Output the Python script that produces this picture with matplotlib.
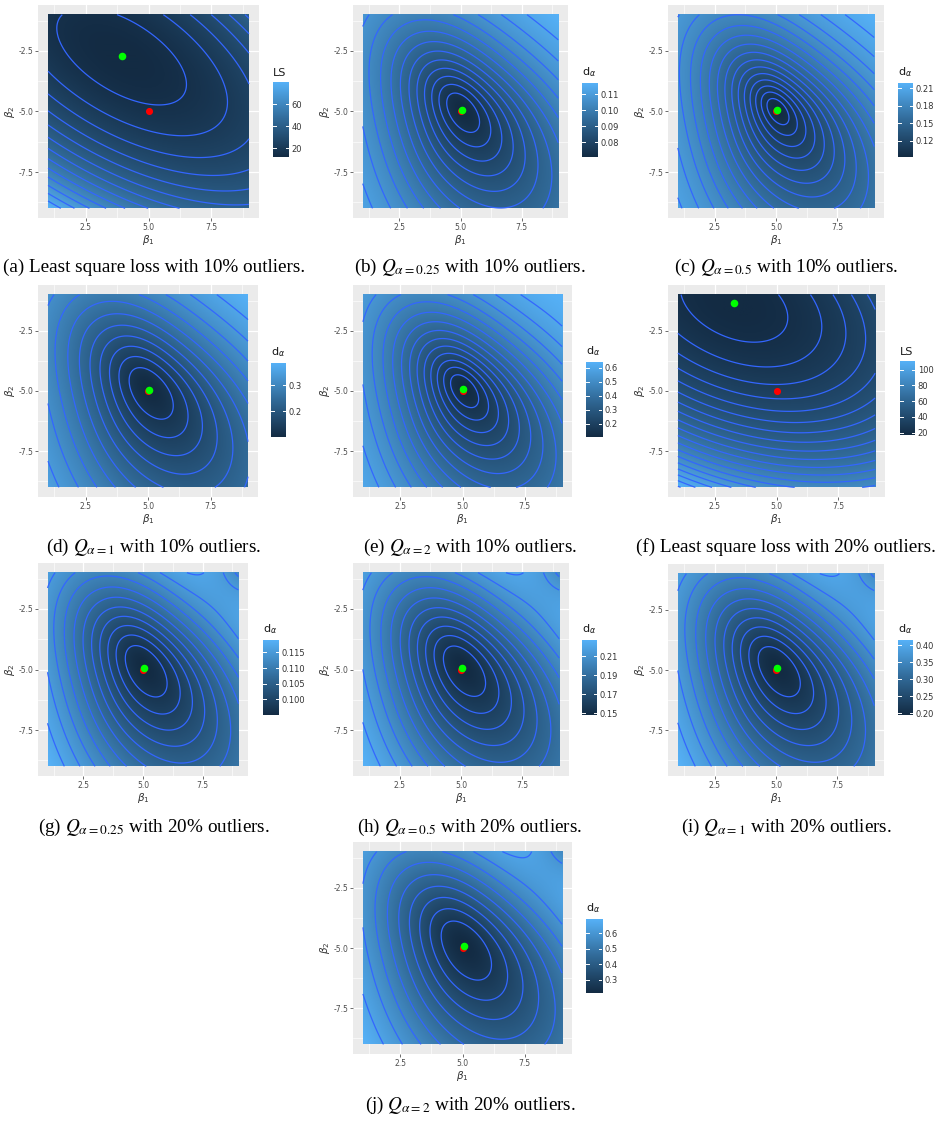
import numpy as np
import matplotlib
matplotlib.use("Agg")
import matplotlib.pyplot as plt
from matplotlib.colors import LinearSegmentedColormap

W, H = 939, 1131

captions = [
    "(a) Least square loss with 10% outliers.",
    r"(b) $Q_{\alpha=0.25}$ with 10% outliers.",
    r"(c) $Q_{\alpha=0.5}$ with 10% outliers.",
    r"(d) $Q_{\alpha=1}$ with 10% outliers.",
    r"(e) $Q_{\alpha=2}$ with 10% outliers.",
    "(f) Least square loss with 20% outliers.",
    r"(g) $Q_{\alpha=0.25}$ with 20% outliers.",
    r"(h) $Q_{\alpha=0.5}$ with 20% outliers.",
    r"(i) $Q_{\alpha=1}$ with 20% outliers.",
    r"(j) $Q_{\alpha=2}$ with 20% outliers.",
]
kinds = ["ls", "dpd", "dpd", "dpd", "dpd", "ls", "dpd", "dpd", "dpd", "dpd"]
legend_titles = ["LS", "d$_{\\alpha}$", "d$_{\\alpha}$", "d$_{\\alpha}$", "d$_{\\alpha}$",
                 "LS", "d$_{\\alpha}$", "d$_{\\alpha}$", "d$_{\\alpha}$", "d$_{\\alpha}$"]

# range of the fill scale
value_lo = [12, 0.0706, 0.092, 0.101, 0.104, 17, 0.095, 0.148, 0.195, 0.214]
value_hi = [80, 0.117, 0.219, 0.386, 0.64, 111, 0.119, 0.227, 0.415, 0.692]
bar_ticks = [
    [20, 40, 60],
    [0.08, 0.09, 0.10, 0.11],
    [0.12, 0.15, 0.18, 0.21],
    [0.2, 0.3],
    [0.2, 0.3, 0.4, 0.5, 0.6],
    [20, 40, 60, 80, 100],
    [0.100, 0.105, 0.110, 0.115],
    [0.15, 0.17, 0.19, 0.21],
    [0.20, 0.25, 0.30, 0.35, 0.40],
    [0.3, 0.4, 0.5, 0.6],
]
bar_labels = [
    ["20", "40", "60"],
    ["0.08", "0.09", "0.10", "0.11"],
    ["0.12", "0.15", "0.18", "0.21"],
    ["0.2", "0.3"],
    ["0.2", "0.3", "0.4", "0.5", "0.6"],
    ["20", "40", "60", "80", "100"],
    ["0.100", "0.105", "0.110", "0.115"],
    ["0.15", "0.17", "0.19", "0.21"],
    ["0.20", "0.25", "0.30", "0.35", "0.40"],
    ["0.3", "0.4", "0.5", "0.6"],
]
# contour levels: fixed step for LS, count for d_alpha
level_step = [5, None, None, None, None, 5, None, None, None, None]
n_levels = [0, 13, 16, 11, 14, 0, 11, 11, 11, 9]

# estimated minimiser (green) and true beta (red)
green_b1 = [3.93, 5.05, 5.05, 5.04, 5.04, 3.28, 5.05, 5.06, 5.05, 5.05]
green_b2 = [-2.72, -4.95, -4.95, -4.95, -4.93, -1.35, -4.93, -4.93, -4.93, -4.93]
red_b1 = [5.0] * 10
red_b2 = [-5.0] * 10

# surface shape around the minimiser
shape_A = [1.00, 1.0, 1.0, 1.0, 1.0, 1.00, 1.0, 1.0, 1.0, 1.0]
shape_B = [1.65, 0.7, 0.7, 0.7, 0.7, 1.80, 0.7, 0.7, 0.7, 0.7]
shape_C = [0.74, 0.4, 0.4, 0.4, 0.4, 0.50, 0.4, 0.4, 0.4, 0.4]
core = [0, 0.35, 0.08, 0.7, 0.2, 0, 1.0, 0.9, 0.9, 1.2]      # rounding of the bottom
saturation = [0, 0.25, 0.25, 0.22, 0.25, 0, 0.22, 0.22, 0.22, 0.22]
skew_up = [0, 0.3, 0.3, 0.3, 0.3, 0, 0.3, 0.3, 0.3, 0.3]      # upper side brighter
skew_left = [0, 0.1, 0.1, 0.1, 0.1, 0, 0.1, 0.1, 0.1, 0.1]
out_b1 = [0, 10.5, 10.5, 10.5, 10.5, 0, 10.2, 10.2, 10.2, 10.2]
out_b2 = [0, 0.5, 0.5, 0.5, 0.5, 0, 0.2, 0.2, 0.2, 0.2]
out_w = [0, 0, 0, 0, 0.08, 0, 0.55, 0.55, 0.55, 0.55]

x_ticks = [2.5, 5.0, 7.5]
x_ticklabels = ["2.5", "5.0", "7.5"]
y_ticks = [-7.5, -5.0, -2.5]
y_ticklabels = ["-7.5", "-5.0", "-2.5"]

# pixel boxes (x0, y0, x1, y1)
panel_px = [(38, 5, 259, 218), (353, 5, 568, 218), (668, 5, 884, 218),
            (38, 285, 258, 497), (353, 285, 572, 497), (668, 285, 885, 497),
            (38, 563, 248, 776), (353, 563, 569, 776), (668, 564, 884, 776),
            (353, 842, 572, 1054)]
bar_px = [(273, 82, 289, 157), (582, 83, 598, 157), (898, 83, 913, 157),
          (271, 363, 286, 437), (586, 362, 602, 437), (900, 361, 915, 435),
          (263, 640, 279, 715), (582, 640, 597, 715), (898, 640, 913, 715),
          (586, 919, 602, 993)]
caption_xy = [(154, 267), (470, 267), (786, 267), (154, 547), (470, 547),
              (786, 547), (154, 827), (470, 827), (786, 827), (470, 1105)]

cmap = LinearSegmentedColormap.from_list("gg", ["#132B43", "#316A98", "#56B1F7"])


def rect(box):
    x0, y0, x1, y1 = box
    return [x0 / W, 1 - y1 / H, (x1 - x0) / W, (y1 - y0) / H]


def surface(i, b1, b2):
    u = b1 - green_b1[i]
    v = b2 - green_b2[i]
    q = shape_A[i] * u * u + shape_B[i] * v * v + 2 * shape_C[i] * u * v
    if kinds[i] == "ls":
        z = 0.5 * q
    else:
        cone = np.sqrt(q + core[i]) - np.sqrt(core[i])
        side = (skew_up[i] * v - skew_left[i] * u) / np.sqrt(u * u + v * v + 1)
        z = 1 - np.exp(-saturation[i] * cone * (1 + side))
        d2 = (b1 - out_b1[i]) ** 2 + (b2 - out_b2[i]) ** 2
        z -= out_w[i] * np.exp(-0.25 * d2)
    z = (z - z.min()) / (z.max() - z.min())
    return value_lo[i] + z * (value_hi[i] - value_lo[i])


fig = plt.figure(figsize=(W / 100, H / 100), dpi=100)

g1 = np.linspace(1, 9, 201)
g2 = np.linspace(-9, -1, 201)
B1, B2 = np.meshgrid(g1, g2)

for i in range(10):
    ax = fig.add_axes(rect(panel_px[i]))
    ax.set_facecolor("#EBEBEB")
    for s in ax.spines.values():
        s.set_visible(False)
    ax.set_xticks(x_ticks)
    ax.set_xticklabels(x_ticklabels)
    ax.set_yticks(y_ticks)
    ax.set_yticklabels(y_ticklabels)
    ax.set_xticks([1.25, 3.75, 6.25, 8.75], minor=True)
    ax.set_yticks([-8.75, -6.25, -3.75, -1.25], minor=True)
    ax.grid(which="major", color="white", lw=0.9)
    ax.grid(which="minor", color="white", lw=0.45)
    ax.set_axisbelow(True)
    ax.tick_params(which="major", length=2, width=0.5, color="#333333",
                   labelsize=5.5, labelcolor="#4D4D4D", pad=1.5)
    ax.tick_params(which="minor", length=0)
    ax.set_xlabel(r"$\beta_1$", fontsize=7.5, color="#333333", labelpad=1)
    ax.set_ylabel(r"$\beta_2$", fontsize=7.5, color="#333333", labelpad=1)

    Z = surface(i, B1, B2)
    ax.imshow(Z, extent=[1, 9, -9, -1], origin="lower", cmap=cmap,
              vmin=value_lo[i], vmax=value_hi[i], interpolation="bilinear",
              aspect="auto", zorder=1)
    if level_step[i]:
        st = level_step[i]
        levels = np.arange(np.ceil(value_lo[i] / st) * st, value_hi[i], st)
    else:
        levels = np.linspace(value_lo[i], value_hi[i], n_levels[i] + 2)[1:-1]
    ax.contour(B1, B2, Z, levels=levels, colors="#3366FF", linewidths=0.9, zorder=2)
    ax.scatter([red_b1[i]], [red_b2[i]], s=26, color="#FF0000", lw=0, zorder=3)
    ax.scatter([green_b1[i]], [green_b2[i]], s=30, color="#00FF00", lw=0, zorder=4)
    ax.set_xlim(0.6, 9.4)
    ax.set_ylim(-9.4, -0.6)

    # colour bar in ggplot style
    cax = fig.add_axes(rect(bar_px[i]))
    grad = np.linspace(value_lo[i], value_hi[i], 200).reshape(-1, 1)
    cax.imshow(grad, extent=[0, 1, value_lo[i], value_hi[i]], origin="lower",
               cmap=cmap, vmin=value_lo[i], vmax=value_hi[i], aspect="auto")
    for t in bar_ticks[i]:
        cax.plot([0, 0.2], [t, t], color="white", lw=0.7)
        cax.plot([0.8, 1], [t, t], color="white", lw=0.7)
    cax.set_xlim(0, 1)
    cax.set_ylim(value_lo[i], value_hi[i])
    cax.set_xticks([])
    cax.yaxis.tick_right()
    cax.set_yticks(bar_ticks[i])
    cax.set_yticklabels(bar_labels[i])
    cax.tick_params(axis="y", length=0, labelsize=6, labelcolor="#333333", pad=2)
    for s in cax.spines.values():
        s.set_visible(False)
    x0, y0, x1, y1 = bar_px[i]
    fig.text(x0 / W, 1 - (y0 - 4) / H, legend_titles[i], fontsize=8,
             color="#1A1A1A", ha="left", va="bottom")

    cx, cy = caption_xy[i]
    fig.text(cx / W, 1 - cy / H, captions[i], fontsize=13.8, family="Liberation Serif",
             math_fontfamily="stix", ha="center", va="center", color="black")

fig.savefig("out.png", dpi=100)
